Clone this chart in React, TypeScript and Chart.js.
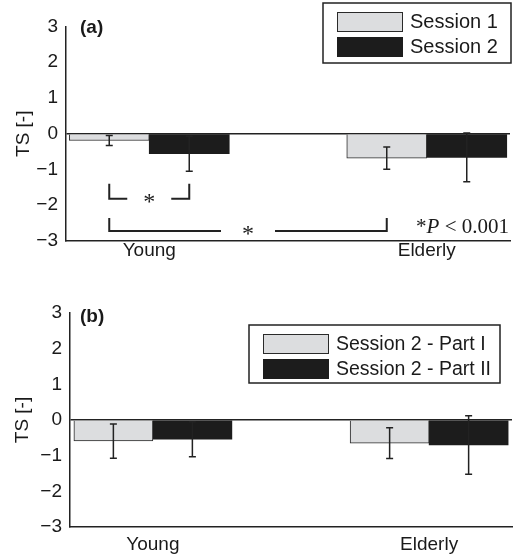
import React, { useEffect, useRef } from 'react';
import { Chart, registerables } from 'chart.js';

Chart.register(...registerables);

// ---------- data ----------
const categories = ['Young', 'Elderly'];
const categoryPositions = [1, 2];
const yTickValues = [-3, -2, -1, 0, 1, 2, 3];

// Panel (a)
const seriesA = ['Session 1', 'Session 2'];
const session1 = [-0.19, -0.68];
const session1Err = [0.14, 0.31];
const session2 = [-0.56, -0.66];
const session2Err = [0.49, 0.68];
// brackets: [dataset, category] endpoints, top of legs and line level (TS units)
const bracketShortEnds = [[0, 0], [1, 0]];
const bracketShortY = [-1.4, -1.82];
const bracketLongEnds = [[0, 0], [0, 1]];
const bracketLongY = [-2.36, -2.72];
const pNote = ['*', 'P', ' < 0.001'];

// Panel (b)
const seriesB = ['Session 2 - Part I', 'Session 2 - Part II'];
const partI = [-0.59, -0.65];
const partIErr = [0.48, 0.43];
const partII = [-0.54, -0.7];
const partIIErr = [0.49, 0.82];

// ---------- style ----------
const SANS = "'Liberation Sans', Arial, Helvetica, sans-serif";
const SERIF = "'Liberation Serif', 'Times New Roman', serif";
const LIGHT = '#dcdddf';
const DARK = '#1c1c1c';
const AXIS = '#222222';
const TEXT = '#1a1a1a';

type Panel = {
  tag: string;
  series: string[];
  values: number[][];
  errors: number[][];
  height: number;
  padTop: number;
  padRight: number;
  xAxisHeight: number;
  yAxisWidth: number;
  xTickPad: number;
  titlePad: number;
  barWidth: number;
  tagPos: [number, number];
  legendBox: [number, number, number, number];
  legendFont: number;
  brackets?: { ends: number[][]; y: number[]; gap: number }[];
  note?: boolean;
};

const panels: Panel[] = [
  {
    tag: '(a)',
    series: seriesA,
    values: [session1, session2],
    errors: [session1Err, session2Err],
    height: 275,
    padTop: 26.5,
    padRight: 4,
    xAxisHeight: 34,
    yAxisWidth: 66,
    xTickPad: 0,
    titlePad: 12,
    barWidth: 80,
    tagPos: [80, 28],
    legendBox: [323, 3, 188, 60],
    legendFont: 20,
    brackets: [
      { ends: bracketShortEnds, y: bracketShortY, gap: 22 },
      { ends: bracketLongEnds, y: bracketLongY, gap: 27 },
    ],
    note: true,
  },
  {
    tag: '(b)',
    series: seriesB,
    values: [partI, partII],
    errors: [partIErr, partIIErr],
    height: 278,
    padTop: 33,
    padRight: 2,
    xAxisHeight: 31,
    yAxisWidth: 70,
    xTickPad: 8,
    titlePad: 11,
    barWidth: 79,
    tagPos: [80, 37],
    legendBox: [249, 45, 251, 58],
    legendFont: 19.5,
    note: false,
  },
];

function panelPlugin(p: Panel) {
  return {
    id: 'panelDecor' + p.tag,
    afterDatasetsDraw(chart: any) {
      const ctx: CanvasRenderingContext2D = chart.ctx;
      const ys = chart.scales.y;
      ctx.save();
      // error bars
      p.values.forEach((vals, si) => {
        const meta = chart.getDatasetMeta(si);
        vals.forEach((v, ci) => {
          const el = meta.data[ci];
          const e = p.errors[si][ci];
          const x = el.x;
          const yt = ys.getPixelForValue(v + e);
          const yb = ys.getPixelForValue(v - e);
          ctx.strokeStyle = AXIS;
          ctx.lineWidth = 1.5;
          ctx.beginPath();
          ctx.moveTo(x, yt);
          ctx.lineTo(x, yb);
          ctx.moveTo(x - 3.5, yt);
          ctx.lineTo(x + 3.5, yt);
          ctx.moveTo(x - 3.5, yb);
          ctx.lineTo(x + 3.5, yb);
          ctx.stroke();
        });
      });
      // brackets
      (p.brackets || []).forEach((b) => {
        const x1 = chart.getDatasetMeta(b.ends[0][0]).data[b.ends[0][1]].x;
        const x2 = chart.getDatasetMeta(b.ends[1][0]).data[b.ends[1][1]].x;
        const yTop = ys.getPixelForValue(b.y[0]);
        const yLine = ys.getPixelForValue(b.y[1]);
        const mid = (x1 + x2) / 2;
        ctx.strokeStyle = AXIS;
        ctx.lineWidth = 2;
        ctx.beginPath();
        ctx.moveTo(x1, yTop);
        ctx.lineTo(x1, yLine);
        ctx.lineTo(mid - b.gap, yLine);
        ctx.moveTo(mid + b.gap, yLine);
        ctx.lineTo(x2, yLine);
        ctx.lineTo(x2, yTop);
        ctx.stroke();
        ctx.fillStyle = TEXT;
        ctx.font = `24px ${SERIF}`;
        ctx.textAlign = 'center';
        ctx.textBaseline = 'alphabetic';
        const m = ctx.measureText('*');
        const base = yLine - (m.actualBoundingBoxDescent - m.actualBoundingBoxAscent) / 2;
        ctx.fillText('*', mid, base);
      });
      // p-value note
      if (p.note) {
        const right = chart.chartArea.right - 1;
        const base = ys.getPixelForValue(-3) - 8;
        const fonts = [`21px ${SERIF}`, `italic 21px ${SERIF}`, `21px ${SERIF}`];
        const widths = pNote.map((t, i) => {
          ctx.font = fonts[i];
          return ctx.measureText(t).width;
        });
        let x = right - widths.reduce((a, b) => a + b, 0);
        ctx.fillStyle = TEXT;
        ctx.textAlign = 'left';
        ctx.textBaseline = 'alphabetic';
        pNote.forEach((t, i) => {
          ctx.font = fonts[i];
          ctx.fillText(t, x, base);
          x += widths[i];
        });
      }
      // panel tag
      ctx.fillStyle = TEXT;
      ctx.font = `bold 19px ${SANS}`;
      ctx.textAlign = 'left';
      ctx.textBaseline = 'middle';
      ctx.fillText(p.tag, p.tagPos[0], p.tagPos[1]);
      // legend
      const [lx, ly, lw, lh] = p.legendBox;
      ctx.fillStyle = '#ffffff';
      ctx.fillRect(lx, ly, lw, lh);
      ctx.strokeStyle = AXIS;
      ctx.lineWidth = 1.5;
      ctx.strokeRect(lx, ly, lw, lh);
      p.series.forEach((label, si) => {
        const sx = lx + 14;
        const sy = ly + 9 + si * 25;
        ctx.fillStyle = si === 0 ? LIGHT : DARK;
        ctx.fillRect(sx, sy, 66, 20);
        ctx.strokeStyle = si === 0 ? '#2a2a2a' : DARK;
        ctx.lineWidth = 1;
        ctx.strokeRect(sx + 0.5, sy + 0.5, 65, 19);
        ctx.fillStyle = TEXT;
        ctx.font = `${p.legendFont}px ${SANS}`;
        ctx.textAlign = 'left';
        ctx.textBaseline = 'middle';
        ctx.fillText(label, sx + 73, sy + 10.5);
      });
      ctx.restore();
    },
  };
}

function buildChart(canvas: HTMLCanvasElement, p: Panel) {
  return new Chart(canvas, {
    type: 'bar',
    data: {
      datasets: p.series.map((label, si) => ({
        label,
        data: categoryPositions.map((x, ci) => ({ x, y: p.values[si][ci] })),
        backgroundColor: si === 0 ? LIGHT : DARK,
        borderColor: si === 0 ? '#2a2a2a' : DARK,
        borderWidth: si === 0 ? 1 : 0,
        barThickness: p.barWidth,
      })),
    } as any,
    options: {
      responsive: false,
      animation: false,
      events: [],
      layout: { padding: { top: p.padTop, right: p.padRight, left: 0, bottom: 0 } },
      plugins: { legend: { display: false }, tooltip: { enabled: false } },
      scales: {
        x: {
          type: 'linear',
          min: 0.7,
          max: 2.3,
          offset: false,
          grid: { display: false, drawTicks: false },
          border: { display: true, color: AXIS, width: 1.5 },
          afterBuildTicks: (s: any) => {
            s.ticks = categoryPositions.map((v) => ({ value: v }));
          },
          afterFit: (s: any) => {
            s.height = p.xAxisHeight;
          },
          ticks: {
            autoSkip: false,
            maxRotation: 0,
            minRotation: 0,
            padding: p.xTickPad,
            color: TEXT,
            font: { family: SANS, size: 19, lineHeight: 1 },
            callback: (v: any) => {
              const i = categoryPositions.indexOf(Number(v));
              return i >= 0 ? categories[i] : '';
            },
          },
        },
        y: {
          type: 'linear',
          min: -3,
          max: 3,
          afterBuildTicks: (s: any) => {
            s.ticks = yTickValues.map((v) => ({ value: v }));
          },
          afterFit: (s: any) => {
            s.width = p.yAxisWidth;
          },
          grid: {
            drawTicks: false,
            lineWidth: 1.5,
            color: (c: any) => (c.tick && c.tick.value === 0 ? AXIS : 'rgba(0,0,0,0)'),
          },
          border: { display: true, color: AXIS, width: 1.5 },
          ticks: {
            padding: 8,
            color: TEXT,
            font: { family: SANS, size: 19 },
            callback: (v: any) => (Number(v) < 0 ? '\u2212' + Math.abs(Number(v)) : String(v)),
          },
          title: {
            display: true,
            text: 'TS [-]',
            color: TEXT,
            font: { family: SANS, size: 19 },
            padding: { top: p.titlePad, bottom: 0 },
          },
        },
      },
    } as any,
    plugins: [panelPlugin(p)],
  });
}

function PanelChart({ p, top }: { p: Panel; top: number }) {
  const ref = useRef<HTMLCanvasElement | null>(null);
  useEffect(() => {
    if (!ref.current) return;
    const chart = buildChart(ref.current, p);
    return () => chart.destroy();
  }, [p]);
  return (
    <canvas
      ref={ref}
      width={514}
      height={p.height}
      style={{ position: 'absolute', left: 0, top, width: 514, height: p.height, display: 'block' }}
    />
  );
}

export default function App() {
  return (
    <div
      style={{
        position: 'absolute',
        left: 0,
        top: 0,
        width: 514,
        height: 558,
        background: '#ffffff',
        overflow: 'hidden',
      }}
    >
      <PanelChart p={panels[0]} top={0} />
      <PanelChart p={panels[1]} top={280} />
    </div>
  );
}
